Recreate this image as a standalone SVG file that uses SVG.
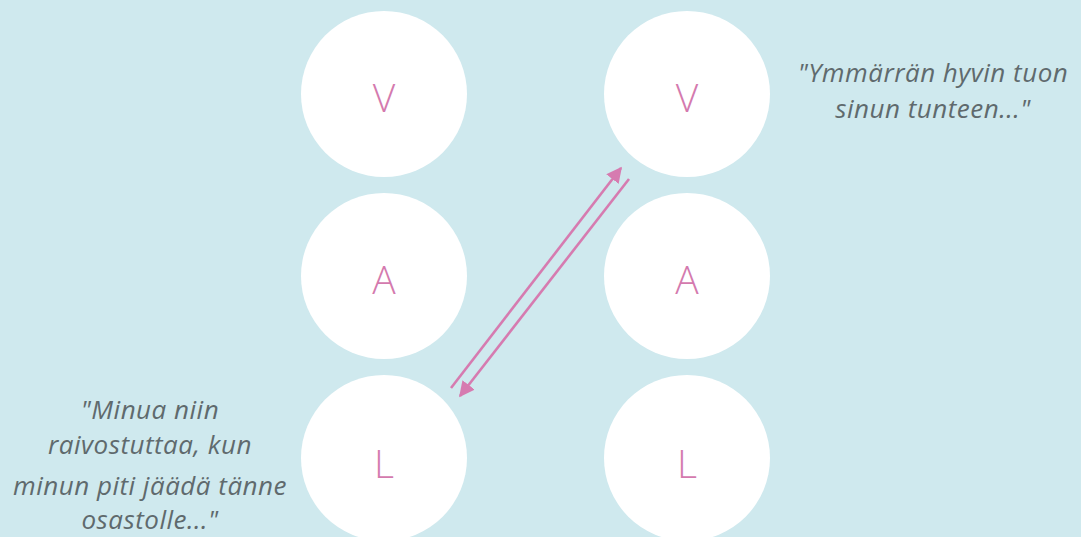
<svg xmlns="http://www.w3.org/2000/svg" width="1081" height="537" viewBox="0 0 1081 537">
<style>
.c{fill:#ffffff}
.l{font-family:"Open Sans","Liberation Sans",sans-serif;font-weight:300;font-size:39px;fill:#d47aae;text-anchor:middle}
.q{font-family:"Open Sans","Liberation Sans",sans-serif;font-style:italic;font-size:26px;letter-spacing:0.5px;fill:#5f6a6d;text-anchor:middle}
.a{stroke:#d67bb0;stroke-width:2.6;fill:none}
</style>
<defs>
<marker id="ah" viewBox="0 0 10 10" refX="9" refY="5" markerWidth="6" markerHeight="6" orient="auto" markerUnits="strokeWidth">
<path d="M0,0 L10,5 L0,10 z" fill="#d67bb0"/>
</marker>
</defs>
<rect width="1081" height="537" fill="#cfe9ee"/>
<g id="V1"><circle class="c" cx="384" cy="94" r="83"/><text class="l" x="384" y="112">V</text></g>
<g id="A1"><circle class="c" cx="384" cy="276" r="83"/><text class="l" x="384" y="294">A</text></g>
<g id="L1"><circle class="c" cx="384" cy="458" r="83"/><text class="l" x="384" y="478">L</text></g>
<g id="V2"><circle class="c" cx="687" cy="94" r="83"/><text class="l" x="687" y="112">V</text></g>
<g id="A2"><circle class="c" cx="687" cy="276" r="83"/><text class="l" x="687" y="294">A</text></g>
<g id="L2"><circle class="c" cx="687" cy="458" r="83"/><text class="l" x="687" y="478">L</text></g>
<g id="connectors">
<line class="a" x1="451" y1="388" x2="621" y2="168" marker-end="url(#ah)"/>
<line class="a" x1="629" y1="179" x2="460" y2="396" marker-end="url(#ah)"/>
</g>
<g id="quote-right">
<text class="q" x="933" y="82">"Ymmärrän hyvin tuon</text>
<text class="q" x="933" y="118">sinun tunteen..."</text>
</g>
<g id="quote-left">
<text class="q" x="150" y="419">"Minua niin</text>
<text class="q" x="150" y="454">raivostuttaa, kun</text>
<text class="q" x="150" y="495">minun piti jäädä tänne</text>
<text class="q" x="150" y="529">osastolle..."</text>
</g>
</svg>
